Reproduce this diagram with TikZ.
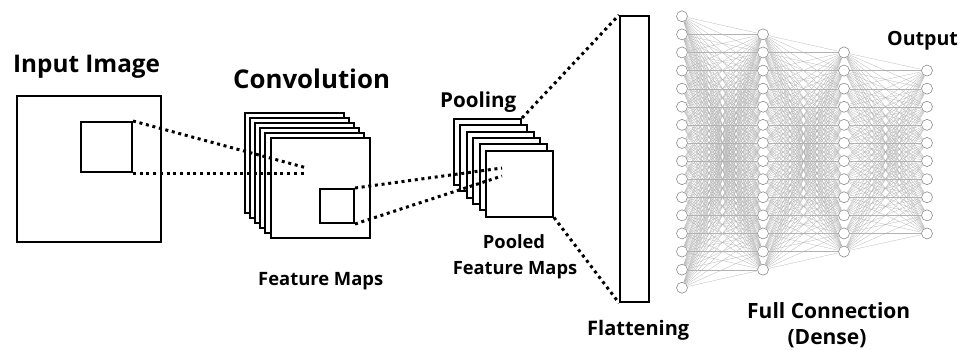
\documentclass[tikz,border=0pt]{standalone}
\usepackage{fontspec}
\setmainfont{Open Sans}
\begin{document}
\begin{tikzpicture}[x=1pt,y=-1pt,
  box/.style={draw=black,line width=2pt,fill=white,rectangle,inner sep=0pt},
  dots/.style={line width=3pt,dash pattern=on 3pt off 3.7pt,black},
  neuron/.style={circle,draw=black!45,fill=white,line width=0.6pt,minimum size=11pt,inner sep=0pt},
  edge/.style={draw=black!30,line width=0.25pt},
  lbl/.style={inner sep=0pt,text=black}
]
\useasboundingbox[fill=white] (0,0) rectangle (961,349);

% labels
\node[lbl,anchor=base west,font=\fontsize{24.3}{26}\selectfont\bfseries] (tin) at (13,72) {Input Image};
\node[lbl,anchor=base west,font=\fontsize{25.8}{28}\selectfont\bfseries] (tconv) at (233,88) {Convolution};
\node[lbl,anchor=base west,font=\fontsize{18.4}{20}\selectfont\bfseries] (tfm) at (258,285) {Feature Maps};
\node[lbl,anchor=base west,font=\fontsize{20.6}{22}\selectfont\bfseries] (tpool) at (440,107) {Pooling};
\node[lbl,anchor=base,font=\fontsize{18.3}{20}\selectfont\bfseries] (tpooled) at (514,248) {Pooled};
\node[lbl,anchor=base,font=\fontsize{18.3}{20}\selectfont\bfseries] (tpfm) at (515,274) {Feature Maps};
\node[lbl,anchor=base west,font=\fontsize{20}{22}\selectfont\bfseries] (tflat) at (587,335) {Flattening};
\node[lbl,anchor=base west,font=\fontsize{21}{23}\selectfont\bfseries] (tfull) at (747,318) {Full Connection};
\node[lbl,anchor=base,font=\fontsize{21}{23}\selectfont\bfseries] (tdense) at (827,344) {(Dense)};
\node[lbl,anchor=base west,font=\fontsize{19.6}{22}\selectfont\bfseries] (tout) at (887,45) {Output};

% input image
\node[box,minimum width=144pt,minimum height=146pt] (inp) at (89,169) {};
\node[box,minimum width=51pt,minimum height=50pt] (win) at (106.5,147) {};

% convolution stack
\foreach \i in {0,...,5}
  \node[box,minimum width=99pt,minimum height=100pt] (conv\i) at ({294.5+5.1*\i},{162.5+5.1*\i}) {};
\node[box,minimum width=34pt,minimum height=34pt] (cwin) at (337,206) {};
\coordinate (c1) at (307,168);
\coordinate (c2) at (307,173);
\draw[dots] (win.north east) -- (c1);
\draw[dots] (win.south east) -- (c2);

% pooling stack
\foreach \i in {0,...,5}
  \node[box,minimum width=67pt,minimum height=66pt] (pool\i) at ({487.5+6.4*\i},{152+6.3*\i}) {};
\coordinate (p1) at (502,168);
\coordinate (p2) at (502,176);
\draw[dots] (cwin.north east) -- (p1);
\draw[dots] (cwin.south east) -- (p2);

% flattening
\node[box,minimum width=29pt,minimum height=286pt] (flat) at (634.5,159) {};
\draw[dots] (pool0.north east) -- (flat.north west);
\draw[dots] (pool5.south east) -- (flat.south west);

% dense network
\foreach \L/\n/\x in {1/16/682,2/14/763,3/12/844,4/10/927}{
  \foreach \k in {1,...,\n}{
    \node[neuron] (n\L-\k) at (\x,{152+(\k-(\n+1)/2)*18.1}) {};
  }
}
\foreach \L/\n/\M/\m in {1/16/2/14,2/14/3/12,3/12/4/10}{
  \foreach \a in {1,...,\n}{
    \foreach \b in {1,...,\m}{
      \draw[edge] (n\L-\a) -- (n\M-\b);
    }
  }
}
\end{tikzpicture}
\end{document}
